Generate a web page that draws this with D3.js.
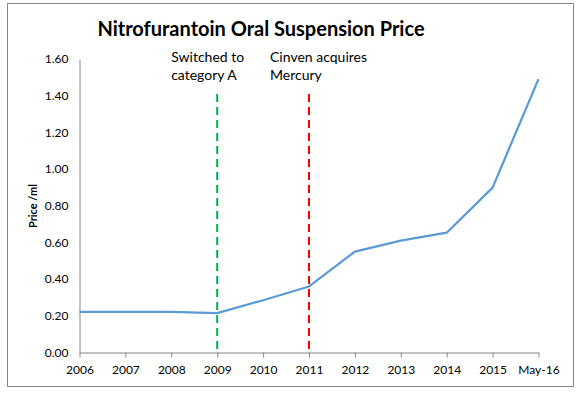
<!DOCTYPE html>
<html>
<head>
<meta charset="utf-8">
<script src="https://cdn.jsdelivr.net/npm/d3@7"></script>
<style>
body { margin: 0; background: #fff; }
text { font-family: Lato, "Open Sans", sans-serif; fill: #000; }
</style>
</head>
<body>
<div class="chart"></div>
<script>
const years = ['2006','2007','2008','2009','2010','2011','2012','2013','2014','2015','May-16'];
const prices = [0.222, 0.222, 0.221, 0.215, 0.285, 0.36, 0.55, 0.61, 0.653, 0.899, 1.49];
const yTicks = [0, 0.2, 0.4, 0.6, 0.8, 1.0, 1.2, 1.4, 1.6];
const events = [
  {year: '2009', lines: ['Switched to', 'category A'], color: '#00b050'},
  {year: '2011', lines: ['Cinven acquires', 'Mercury'], color: '#ff0000'}
];

const width = 581;
const height = 393;
const svg = d3.select('.chart')
  .append('svg')
  .attr('width', width)
  .attr('height', height);

// chart frame
svg.append('rect')
  .attr('x', 7.5).attr('y', 3.5)
  .attr('width', 566).attr('height', 383)
  .attr('fill', 'none')
  .attr('stroke', '#888')
  .attr('stroke-width', 1);

svg.append('text')
  .attr('x', 261).attr('y', 36)
  .attr('text-anchor', 'middle')
  .attr('font-size', 20)
  .attr('font-weight', 'bold')
  .text('Nitrofurantoin Oral Suspension Price');

const x = d3.scalePoint().domain(years).range([79.5, 538.5]);
const y = d3.scaleLinear().domain([0, 1.6]).range([352.5, 59]);

// y axis
const yAxis = svg.append('g')
  .attr('transform', 'translate(79.5,0)')
  .call(d3.axisLeft(y).tickValues(yTicks).tickFormat(d3.format('.2f')).tickSize(0).tickPadding(11));
yAxis.select('.domain').attr('stroke', '#868686');
yAxis.selectAll('text').attr('font-size', 12);

// x axis
const xAxis = svg.append('g')
  .attr('transform', 'translate(0,352.5)')
  .call(d3.axisBottom(x).tickSizeInner(5).tickSizeOuter(0).tickPadding(8));
xAxis.select('.domain').attr('stroke', '#868686');
xAxis.selectAll('.tick line').attr('stroke', '#868686');
xAxis.selectAll('text').attr('font-size', 12);

svg.append('text')
  .attr('transform', 'translate(37,206) rotate(-90)')
  .attr('text-anchor', 'middle')
  .attr('font-size', 11)
  .attr('font-weight', 'bold')
  .text('Price /ml');

// event markers
events.forEach(e => {
  svg.append('line')
    .attr('x1', x(e.year)).attr('x2', x(e.year))
    .attr('y1', 94).attr('y2', y(0))
    .attr('stroke', e.color)
    .attr('stroke-width', 2)
    .attr('stroke-dasharray', '8,5');
  e.lines.forEach((t, i) => {
    svg.append('text')
      .attr('x', x(e.year) - 46 + (e.year === '2011' ? 7 : 0))
      .attr('y', 62 + i * 18)
      .attr('font-size', 14)
      .text(t);
  });
});

const line = d3.line()
  .x((d, i) => x(years[i]))
  .y(d => y(d));

svg.append('path')
  .datum(prices)
  .attr('d', line)
  .attr('fill', 'none')
  .attr('stroke', '#5b9bd5')
  .attr('stroke-width', 2.25)
  .attr('stroke-linejoin', 'round');
</script>
</body>
</html>
